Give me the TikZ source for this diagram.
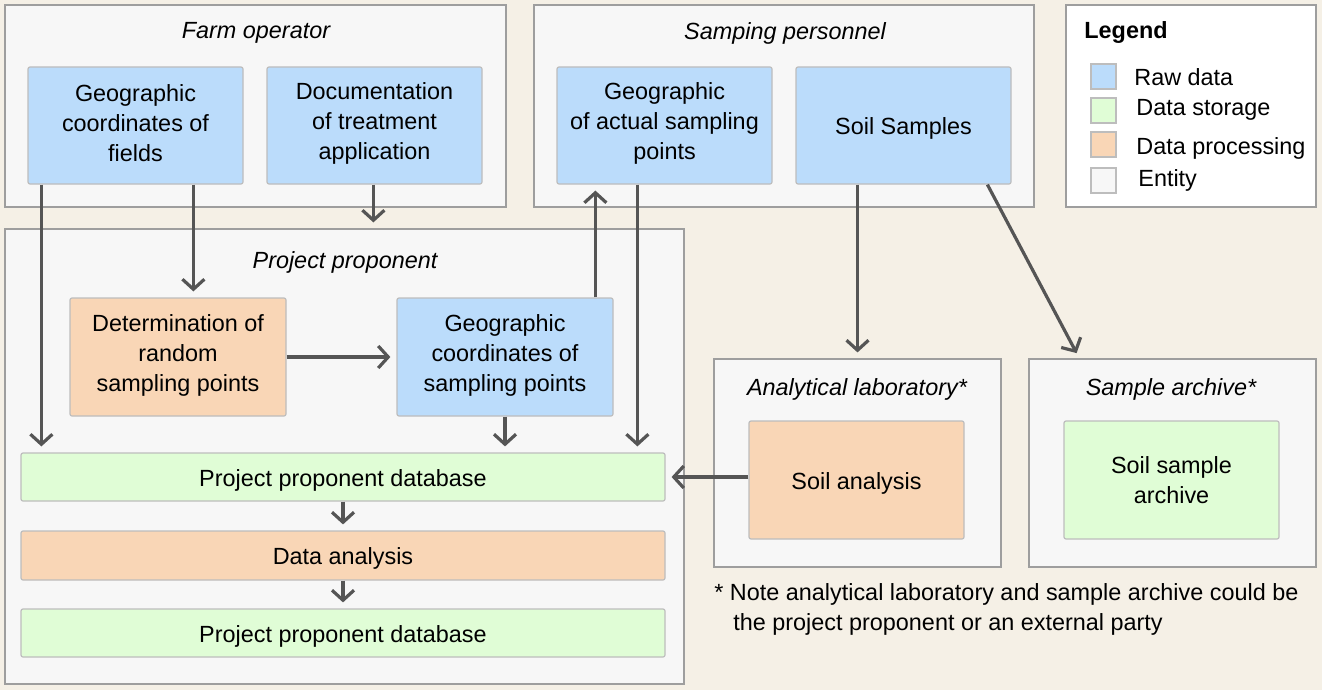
\documentclass[tikz,border=0pt]{standalone}
\usepackage{fontspec}
\setmainfont{Liberation Sans}
\usetikzlibrary{arrows.meta,fit,calc}
\definecolor{bgc}{HTML}{F5F0E6}
\definecolor{entf}{HTML}{F7F7F7}
\definecolor{entb}{HTML}{9E9E9E}
\definecolor{inb}{HTML}{BDBDBD}
\definecolor{rawf}{HTML}{BBDCFB}
\definecolor{storef}{HTML}{E0FDD6}
\definecolor{procf}{HTML}{F9D6B6}
\definecolor{arrc}{HTML}{555555}
\begin{document}
\begin{tikzpicture}[x=0.5pt,y=-0.5pt,
  font=\fontsize{11.7}{15}\selectfont,
  entity/.style={draw=entb, fill=entf, line width=0.6pt, inner sep=0pt},
  inbox/.style={draw=inb, line width=0.6pt, inner sep=0pt, rounded corners=1pt},
  raw/.style={inbox, fill=rawf},
  store/.style={inbox, fill=storef},
  proc/.style={inbox, fill=procf},
  txt/.style={inner sep=0pt, align=center},
  txtone/.style={txt, yshift=-1.5pt},
  title/.style={inner sep=0pt, font=\fontsize{11.7}{15}\selectfont\itshape},
  lab/.style={inner sep=0pt, anchor=west},
  sw/.style={draw=inb, line width=0.6pt, inner sep=0pt},
  arr/.style={draw=arrc, line width=1.6pt, shorten >=3pt, -{Straight Barb[length=5pt,width=11pt]}}]
\useasboundingbox (0,0) rectangle (1322,690);
\fill[bgc] (0,0) rectangle (1322,690);

% entities
\node[entity, fit={(5,5)(506,207)}] (fo) {};
\node[title] (fot) at (256,33) {Farm operator};
\node[raw, fit={(28,67)(243,184)}] (gf) {};
\node[txt] at ([yshift=1pt]gf.center) {Geographic\\coordinates of\\fields};
\node[raw, fit={(267,67)(482,184)}] (doc) {};
\node[txt] at ([yshift=1pt]doc.center) {Documentation\\of treatment\\application};

\node[entity, fit={(534,5)(1034,207)}] (sp) {};
\node[title] (spt) at (785,33) {Samping personnel};
\node[raw, fit={(557,67)(772,184)}] (ga) {};
\node[txt] at ([yshift=1pt]ga.center) {Geographic\\of actual sampling\\points};
\node[raw, fit={(796,67)(1011,184)}] (ss) {};
\node[txtone] at (ss.center) {Soil Samples};

\node[draw=entb, fill=white, line width=0.6pt, inner sep=0pt, fit={(1066,5)(1316,207)}] (leg) {};
\node[lab, font=\fontsize{11.7}{15}\selectfont\bfseries] (legt) at (1084,33) {Legend};
\node[sw, fill=rawf, fit={(1091,64)(1116,89)}] (sw1) {};
\node[lab] (l1) at (1134,77) {Raw data};
\node[sw, fill=storef, fit={(1091,98)(1116,123)}] (sw2) {};
\node[lab] (l2) at (1136,110) {Data storage};
\node[sw, fill=procf, fit={(1091,132)(1116,157)}] (sw3) {};
\node[lab] (l3) at (1136,148) {Data processing};
\node[sw, fill=entf, fit={(1091,168)(1116,193)}] (sw4) {};
\node[lab] (l4) at (1138,180) {Entity};

\node[entity, fit={(5,229)(684,684)}] (pp) {};
\node[title] (ppt) at (345,262) {Project proponent};
\node[proc, fit={(70,298)(286,416)}] (det) {};
\node[txt] at ([yshift=1pt]det.center) {Determination of\\random\\sampling points};
\node[raw, fit={(397,298)(613,416)}] (gs) {};
\node[txt] at ([yshift=1pt]gs.center) {Geographic\\coordinates of\\sampling points};
\node[store, fit={(21,453)(665,501)}] (db1) {};
\node[txtone] at (db1.center) {Project proponent database};
\node[proc, fit={(21,531)(665,580)}] (da) {};
\node[txtone] at (da.center) {Data analysis};
\node[store, fit={(21,609)(665,657)}] (db2) {};
\node[txtone] at (db2.center) {Project proponent database};

\node[entity, fit={(714,359)(1001,567)}] (al) {};
\node[title] (alt) at (857,389) {Analytical laboratory*};
\node[proc, fit={(749,421)(964,539)}] (san) {};
\node[txtone] at (san.center) {Soil analysis};

\node[entity, fit={(1029,359)(1316,567)}] (ar) {};
\node[title] (art) at (1171,389) {Sample archive*};
\node[store, fit={(1064,421)(1279,539)}] (sar) {};
\node[txt] at (sar.center) {Soil sample\\archive};

\node[lab] (n1) at (714,594) {* Note analytical laboratory and sample archive could be};
\node[lab] (n2) at (733,624) {the project proponent or an external party};

% connectors
\coordinate (c1) at ($(gf.south west)+(14,0)$);
\draw[arr] (c1) -- (c1 |- db1.north);
\coordinate (c2) at ($(gf.south west)+(166,0)$);
\draw[arr] (c2) -- (c2 |- det.north);
\coordinate (c3) at ($(doc.south west)+(107,0)$);
\draw[arr] (c3) -- (c3 |- pp.north);
\draw[arr] (det.east) -- (gs.west);
\coordinate (c5) at ($(gs.north west)+(199,0)$);
\draw[arr] (c5) -- (c5 |- ga.south);
\coordinate (c6) at ($(ga.south west)+(81,0)$);
\draw[arr] (c6) -- (c6 |- db1.north);
\draw[arr] (gs.south) -- (gs.south |- db1.north);
\draw[arr] (al.north |- ss.south) -- (al.north);
\coordinate (c9) at ($(ss.south west)+(192,0)$);
\coordinate (c9e) at ($(ar.north west)+(51,0)$);
\draw[arr] (c9) -- (c9e);
\draw[arr] (db1.east -| san.west) -- (db1.east);
\draw[arr] (db1.south) -- (da.north);
\draw[arr] (da.south) -- (db2.north);
\end{tikzpicture}
\end{document}
